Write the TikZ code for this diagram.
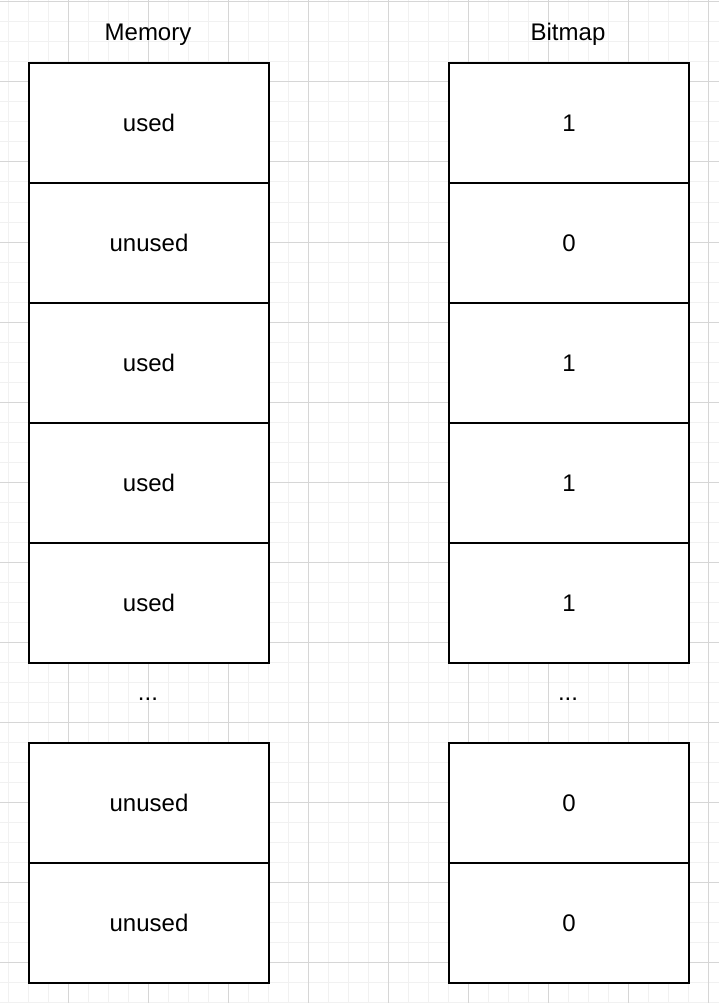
\documentclass[tikz,border=0pt]{standalone}
\usepackage{fontspec}
\setmainfont{Liberation Sans}
\begin{document}
\begin{tikzpicture}[x=1pt,y=-1pt,
  minorgrid/.style={draw={rgb,255:red,241;green,241;blue,241},line width=1pt},
  majorgrid/.style={draw={rgb,255:red,214;green,214;blue,214},line width=1pt},
  cell/.style={draw=black,fill=white,line width=2pt,minimum width=240pt,minimum height=120pt,inner sep=0pt,
    font=\fontsize{24}{28}\selectfont,text height=17pt,text depth=0pt},
  label/.style={anchor=base,inner sep=0pt,font=\fontsize{24}{28}\selectfont}]
\useasboundingbox (0,0) rectangle (719,1003);
\fill[white] (0,0) rectangle (719,1003);
\foreach \x in {8,28,...,718} \draw[minorgrid] (\x,0) -- (\x,1003);
\foreach \y in {2,22,...,1002} \draw[minorgrid] (0,\y) -- (719,\y);
\foreach \x in {68,148,...,718} \draw[majorgrid] (\x,0) -- (\x,1003);
\foreach \y in {2,82,...,1002} \draw[majorgrid] (0,\y) -- (719,\y);
% titles
\node[label] (tmem) at (148,41) {Memory};
\node[label] (tbit) at (568,41) {Bitmap};
% memory column
\node[cell] (m1) at (149,123) {used};
\node[cell] (m2) at (149,243) {unused};
\node[cell] (m3) at (149,363) {used};
\node[cell] (m4) at (149,483) {used};
\node[cell] (m5) at (149,603) {used};
\node[label] (mdots) at (148,700) {...};
\node[cell] (m6) at (149,803) {unused};
\node[cell] (m7) at (149,923) {unused};
% bitmap column
\node[cell] (b1) at (569,123) {1};
\node[cell] (b2) at (569,243) {0};
\node[cell] (b3) at (569,363) {1};
\node[cell] (b4) at (569,483) {1};
\node[cell] (b5) at (569,603) {1};
\node[label] (bdots) at (568,700) {...};
\node[cell] (b6) at (569,803) {0};
\node[cell] (b7) at (569,923) {0};
\end{tikzpicture}
\end{document}
